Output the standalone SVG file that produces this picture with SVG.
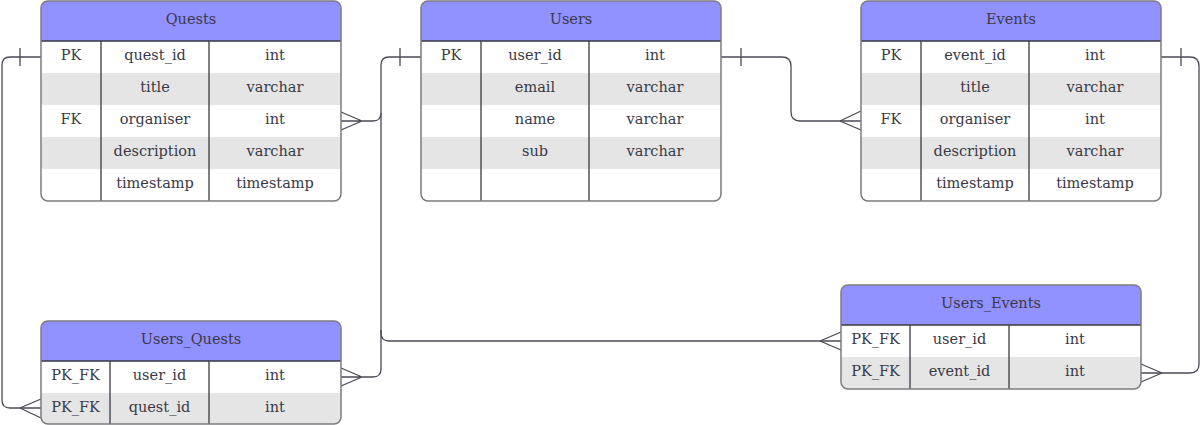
<svg xmlns="http://www.w3.org/2000/svg" width="1200" height="425" viewBox="0 0 1200 425">
<style>
.hdr{fill:#9191ff}
.alt{fill:#e5e5e5}
.wht{fill:#ffffff}
.out{fill:none;stroke:#7c7c80;stroke-width:1.5}
.div{stroke:#3a3a45;stroke-width:1.3;fill:none}
text{font-family:"DejaVu Serif","Liberation Serif",serif;font-size:14.5px;fill:#3a3a48;text-anchor:middle}
.con{fill:none;stroke:#4a4a55;stroke-width:1.3}
</style>
<defs>
<clipPath id="cq"><rect x="41" y="1" width="300" height="200" rx="7"/></clipPath>
<clipPath id="cu"><rect x="421" y="1" width="300" height="200" rx="7"/></clipPath>
<clipPath id="ce"><rect x="861" y="1" width="300" height="200" rx="7"/></clipPath>
<clipPath id="cuq"><rect x="41" y="321" width="300" height="103" rx="7"/></clipPath>
<clipPath id="cue"><rect x="841" y="285" width="300" height="104" rx="7"/></clipPath>
</defs>

<g id="connectors">
<path class="con" d="M41,57 H10 Q2,57 2,65 V400 Q2,408 10,408 H41"/>
<path class="con" d="M20,48 V66 M20,408 L41,399 M20,408 L41,418"/>
<path class="con" d="M421,57 H389 Q381,57 381,65 V333 Q381,341 389,341 H841"/>
<path class="con" d="M400,48 V66 M820,341 L841,332 M820,341 L841,350"/>
<path class="con" d="M381,113 Q381,121 373,121 H341 M362,121 L341,112 M362,121 L341,130"/>
<path class="con" d="M381,330 V369 Q381,377 373,377 H341 M362,377 L341,368 M362,377 L341,386"/>
<path class="con" d="M721,57 H782 Q791,57 791,66 V112 Q791,121 800,121 H861"/>
<path class="con" d="M741,48 V66 M840,121 L861,111 M840,121 L861,130"/>
<path class="con" d="M1161,57 H1190 Q1199,57 1199,66 V364 Q1199,373 1190,373 H1141"/>
<path class="con" d="M1181,48 V66 M1162,373 L1141,364 M1162,373 L1141,382"/>
</g>

<g id="quests">
<g clip-path="url(#cq)">
<rect class="wht" x="41" y="1" width="300" height="200"/>
<rect class="hdr" x="41" y="1" width="300" height="40"/>
<rect class="alt" x="41" y="73" width="300" height="32"/>
<rect class="alt" x="41" y="137" width="300" height="32"/>
</g>
<path class="div" d="M41,41 H341 M101,41 V201 M209,41 V201"/>
<rect class="out" x="41" y="1" width="300" height="200" rx="7"/>
<text x="191" y="24">Quests</text>
<text x="71" y="60">PK</text><text x="155" y="60">quest_id</text><text x="275" y="60">int</text>
<text x="155" y="92">title</text><text x="275" y="92">varchar</text>
<text x="71" y="124">FK</text><text x="155" y="124">organiser</text><text x="275" y="124">int</text>
<text x="155" y="156">description</text><text x="275" y="156">varchar</text>
<text x="155" y="188">timestamp</text><text x="275" y="188">timestamp</text>
</g>

<g id="users">
<g clip-path="url(#cu)">
<rect class="wht" x="421" y="1" width="300" height="200"/>
<rect class="hdr" x="421" y="1" width="300" height="40"/>
<rect class="alt" x="421" y="73" width="300" height="32"/>
<rect class="alt" x="421" y="137" width="300" height="32"/>
</g>
<path class="div" d="M421,41 H721 M481,41 V201 M589,41 V201"/>
<rect class="out" x="421" y="1" width="300" height="200" rx="7"/>
<text x="571" y="24">Users</text>
<text x="451" y="60">PK</text><text x="535" y="60">user_id</text><text x="655" y="60">int</text>
<text x="535" y="92">email</text><text x="655" y="92">varchar</text>
<text x="535" y="124">name</text><text x="655" y="124">varchar</text>
<text x="535" y="156">sub</text><text x="655" y="156">varchar</text>
</g>

<g id="events">
<g clip-path="url(#ce)">
<rect class="wht" x="861" y="1" width="300" height="200"/>
<rect class="hdr" x="861" y="1" width="300" height="40"/>
<rect class="alt" x="861" y="73" width="300" height="32"/>
<rect class="alt" x="861" y="137" width="300" height="32"/>
</g>
<path class="div" d="M861,41 H1161 M921,41 V201 M1029,41 V201"/>
<rect class="out" x="861" y="1" width="300" height="200" rx="7"/>
<text x="1011" y="24">Events</text>
<text x="891" y="60">PK</text><text x="975" y="60">event_id</text><text x="1095" y="60">int</text>
<text x="975" y="92">title</text><text x="1095" y="92">varchar</text>
<text x="891" y="124">FK</text><text x="975" y="124">organiser</text><text x="1095" y="124">int</text>
<text x="975" y="156">description</text><text x="1095" y="156">varchar</text>
<text x="975" y="188">timestamp</text><text x="1095" y="188">timestamp</text>
</g>

<g id="users_quests">
<g clip-path="url(#cuq)">
<rect class="wht" x="41" y="321" width="300" height="103"/>
<rect class="hdr" x="41" y="321" width="300" height="40"/>
<rect class="alt" x="41" y="393" width="300" height="32"/>
</g>
<path class="div" d="M41,361 H341 M110,361 V424 M209,361 V424"/>
<rect class="out" x="41" y="321" width="300" height="103" rx="7"/>
<text x="191" y="344">Users_Quests</text>
<text x="75.5" y="380">PK_FK</text><text x="159.5" y="380">user_id</text><text x="275" y="380">int</text>
<text x="75.5" y="412">PK_FK</text><text x="159.5" y="412">quest_id</text><text x="275" y="412">int</text>
</g>

<g id="users_events">
<g clip-path="url(#cue)">
<rect class="wht" x="841" y="285" width="300" height="104"/>
<rect class="hdr" x="841" y="285" width="300" height="40"/>
<rect class="alt" x="841" y="357" width="300" height="32"/>
</g>
<path class="div" d="M841,325 H1141 M910,325 V389 M1009,325 V389"/>
<rect class="out" x="841" y="285" width="300" height="104" rx="7"/>
<text x="991" y="308">Users_Events</text>
<text x="875.5" y="344">PK_FK</text><text x="959.5" y="344">user_id</text><text x="1075" y="344">int</text>
<text x="875.5" y="376">PK_FK</text><text x="959.5" y="376">event_id</text><text x="1075" y="376">int</text>
</g>
</svg>
